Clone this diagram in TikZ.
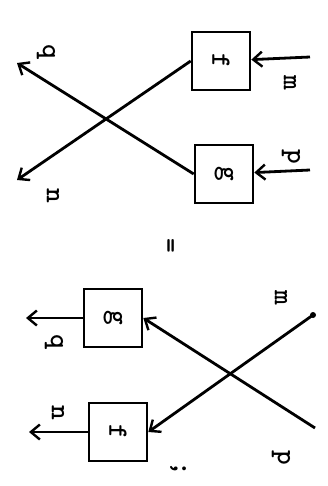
\documentclass[tikz,border=0pt]{standalone}
\usetikzlibrary{arrows.meta}
\newcommand{\cw}[1]{\rotatebox{-90}{#1}}
\begin{document}
\begin{tikzpicture}[x=1pt,y=-1pt,
  txt/.style={font=\ttfamily\bfseries\fontsize{28}{32}\selectfont},
  box/.style={draw,line width=2.6pt,minimum size=58pt,inner sep=0pt,txt},
  lbl/.style={inner sep=0pt,txt},
  wire/.style={line width=2.8pt},
  arr/.style={wire,-{Straight Barb[length=9pt,width=15pt,line width=2.4pt]}}]
\useasboundingbox (0,0) rectangle (327,486);

% left-hand side: f and g first, then the crossing
\node[box] (f1) at (221,61) {\cw{f}};
\node[box] (g1) at (224,174) {\cw{g}};
\coordinate (m1) at (310,57);
\coordinate (p1) at (310,170);
\coordinate (n1) at (17,180);
\coordinate (q1) at (17,63);
\draw[arr] (m1) -- (f1);
\draw[arr] (p1) -- (g1);
\draw[arr] (f1.west) -- (n1);
\draw[arr] (g1.west) -- (q1);
\node[lbl] (lm1) at (290,83) {\cw{m}};
\node[lbl] (lp1) at (291,157) {\cw{p}};
\node[lbl] (ln1) at (53,196) {\cw{n}};
\node[lbl] (lq1) at (46,52) {\cw{q}};

% equality sign
\node[lbl] (eq) at (168,246) {\cw{=}};

% right-hand side: the crossing first, then g and f
\node[box] (g2) at (113,318) {\cw{g}};
\node[box] (f2) at (118,432) {\cw{f}};
\coordinate (m2) at (313,315);
\coordinate (p2) at (315,428);
\coordinate (q2) at (26,318);
\coordinate (n2) at (29,432);
\draw[arr,line cap=round] (m2) -- (f2.east);
\fill (m2) circle (3pt);
\draw[arr] (p2) -- (g2.east);
\draw[arr] (g2) -- (q2);
\draw[arr] (f2) -- (n2);
\node[lbl] (lm2) at (281,298) {\cw{m}};
\node[lbl] (lp2) at (281,458) {\cw{p}};
\node[lbl] (ln2) at (58,413) {\cw{n}};
\node[lbl] (lq2) at (54,342) {\cw{q}};
\node[lbl] (stop) at (178,469) {\cw{;}};
\end{tikzpicture}
\end{document}
